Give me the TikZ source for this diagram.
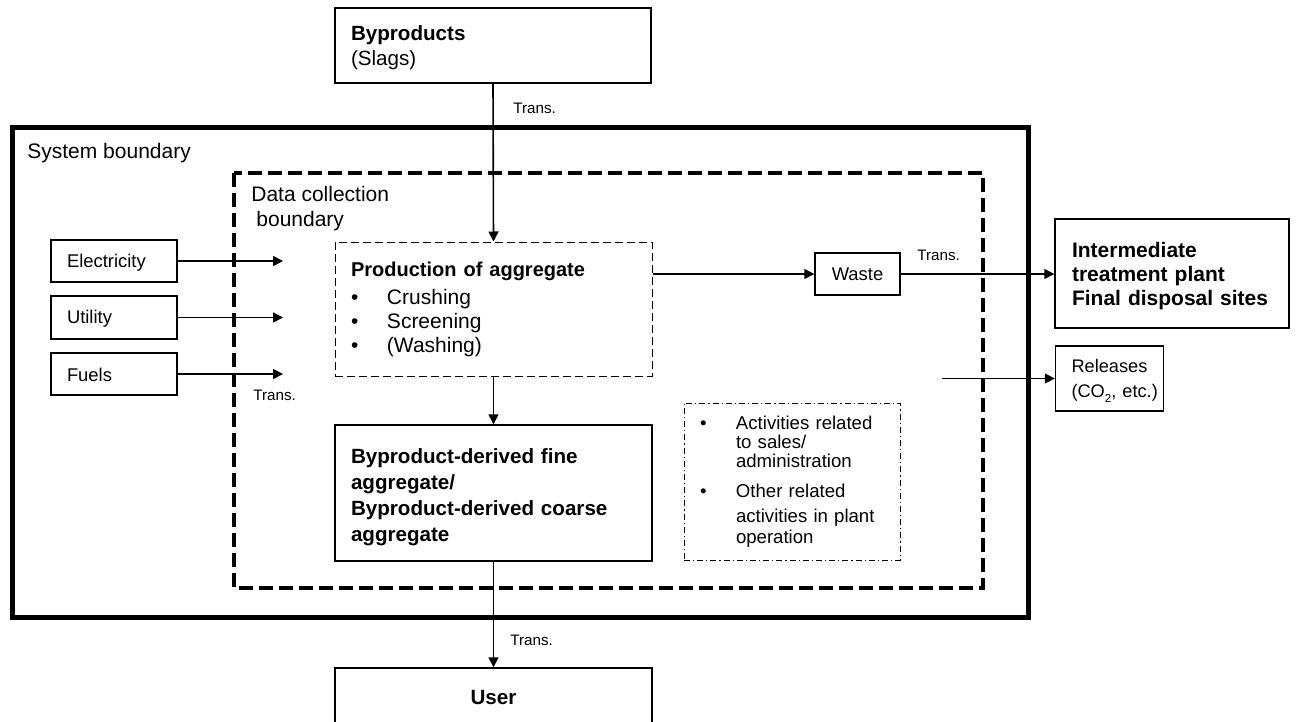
\documentclass[tikz,border=0pt]{standalone}
\usepackage{fontspec}
\setmainfont{Liberation Sans}
\usetikzlibrary{arrows.meta}
\newcommand{\itembul}{\makebox[18pt][l]{•}}
\newcommand{\subtwo}{\raisebox{-0.45ex}{\fontsize{5.8}{6}\selectfont 2}}
\begin{document}
\begin{tikzpicture}[x=0.5pt,y=-0.5pt,
  box/.style={draw, line width=0.7pt, inner ysep=0pt, inner xsep=8pt},
  lbox/.style={box, align=left},
  smallfont/.style={font=\fontsize{9.2}{11}\selectfont},
  flow/.style={line width=0.8pt, -{Triangle[length=5pt,width=5pt]}},
  translabel/.style={font=\fontsize{7.6}{9}\selectfont, inner sep=0pt, anchor=base west},
  labeltext/.style={font=\fontsize{10.5}{12}\selectfont, inner sep=0pt, anchor=base west},
  sysline/.style={line width=2.5pt},
  dataline/.style={line width=2pt, dash pattern=on 7pt off 3pt},
  procline/.style={line width=0.5pt, dash pattern=on 4pt off 2pt},
  otherline/.style={line width=0.5pt, dash pattern=on 3pt off 1.5pt on 0.6pt off 1.5pt}
]
\useasboundingbox (0,0) rectangle (1296,722);
\clip (0,0) rectangle (1296,722);

% boundaries
\draw[sysline] (12,128) rectangle (1028,617);
\draw[dataline] (234,173) rectangle (983,588);
\node[labeltext] (syslab) at (27,159) {System boundary};
\node[labeltext] (dclab1) at (251,201.5) {Data collection};
\node[labeltext] (dclab2) at (256,226.5) {boundary};

% source of byproducts
\node[lbox, text width=142pt, minimum height=37.5pt, font=\fontsize{10.3}{12.5}\selectfont]
  (byp) at (493,45.5) {\rule{0pt}{10pt}\textbf{Byproducts}\\(Slags)};

% inputs
\node[lbox, smallfont, text width=47pt, minimum height=21pt] (elec) at (114,261) {\rule{0pt}{8pt}Electricity};
\node[lbox, smallfont, text width=47pt, minimum height=21.5pt] (util) at (114,317.5) {\rule{0pt}{8pt}Utility};
\node[lbox, smallfont, text width=47pt, minimum height=21pt] (fuel) at (114,374) {\rule{0pt}{8pt}Fuels};
\coordinate (inend) at (283,0);

% production process
\node[box, procline, align=left, text width=142.5pt, minimum height=67pt, font=\fontsize{10.5}{12}\selectfont]
  (prod) at (493.5,309)
  {{\fontsize{10}{12}\selectfont\textbf{Production of aggregate}}\\[2pt]
   \itembul Crushing\\
   \itembul Screening\\
   \itembul (Washing)};

% product
\node[lbox, text width=142.5pt, minimum height=68pt, font=\fontsize{10.3}{13}\selectfont\bfseries]
  (fine) at (493.5,493)
  {\rule{0pt}{12pt}Byproduct-derived fine\\aggregate/\\Byproduct-derived coarse\\aggregate};

% user
\node[box, minimum width=158.5pt, minimum height=30pt, font=\fontsize{10.3}{12}\selectfont\bfseries]
  (user) at (493.5,698) {User};

% waste and outputs
\node[box, smallfont, minimum width=42.5pt, minimum height=21pt, inner xsep=0pt] (waste) at (857.5,274) {Waste};
\node[lbox, text width=100pt, inner xsep=8.5pt, minimum height=54.5pt, font=\fontsize{10.5}{12}\selectfont\bfseries]
  (inter) at (1172,273.5) {\rule{0pt}{10.5pt}Intermediate\\treatment plant\\Final disposal sites};
\node[lbox, text width=38pt, minimum height=32.5pt, font=\fontsize{9.1}{12.5}\selectfont]
  (rel) at (1109.5,378.5) {\rule{0pt}{9pt}\mbox{Releases}\\\mbox{(CO\subtwo, etc.)}};
\coordinate (relstart) at (942,378.5);

% other activities
\node[box, otherline, align=left, text width=92pt, minimum height=78.5pt, font=\fontsize{9.3}{10}\selectfont]
  (other) at (792,481.5)
  {\itembul Activities related\\[-0.5pt]
   \hspace*{18pt}to sales/\\[-0.5pt]
   \hspace*{18pt}administration\\[5pt]
   \itembul Other related\\[2.5pt]
   \hspace*{18pt}activities in plant\\[0.5pt]
   \hspace*{18pt}operation};

% flows
\draw[flow] (byp.south) -- (prod.north);
\draw[flow] (prod.south) -- (fine.north);
\draw[flow] (fine.south) -- (user.north);
\draw[flow] (elec.east) -- (elec.east -| inend);
\draw[flow] (util.east) -- (util.east -| inend);
\draw[flow] (fuel.east) -- (fuel.east -| inend);
\draw[flow] (prod.east |- waste.west) -- (waste.west);
\draw[flow] (waste.east) -- (waste.east -| inter.west);
\draw[flow] (relstart) -- (rel.west);

% transport labels
\node[translabel] (tr1) at (513,113.5) {Trans.};
\node[translabel] (tr2) at (253,400.5) {Trans.};
\node[translabel] (tr3) at (917,260.5) {Trans.};
\node[translabel] (tr4) at (510,645.5) {Trans.};
\end{tikzpicture}
\end{document}
